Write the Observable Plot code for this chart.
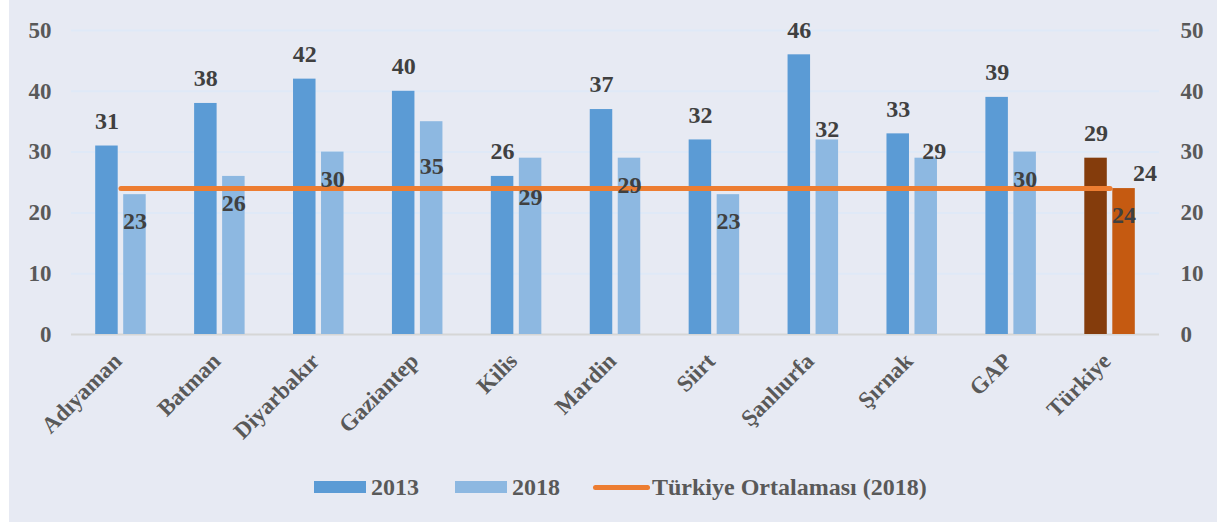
<!DOCTYPE html>
<html>
<head>
<meta charset="utf-8">
<script src="https://cdn.jsdelivr.net/npm/d3@7"></script>
<script src="https://cdn.jsdelivr.net/npm/@observablehq/plot@0.6"></script>
<style>
  html, body { margin: 0; padding: 0; background: #ffffff; }
  #frame { position: absolute; left: 9px; top: 0; width: 1208px; height: 522px; background: #E7EAF3; font-family: "Liberation Serif", "Times New Roman", serif; }
  #legend { height: 54px; display: flex; align-items: center; padding-left: 305px; font-weight: bold; font-size: 24px; color: #595959; }
  .sw { display: inline-block; width: 52px; height: 12px; margin-right: 5px; }
  .ln { display: inline-block; width: 57px; height: 5px; border-radius: 3px; margin-right: 2px; }
</style>
</head>
<body>
<div id="frame">
  <div id="chart"></div>
  <div id="legend"></div>
</div>
<script>
// ---- data ----
const regions = ["Adıyaman", "Batman", "Diyarbakır", "Gaziantep", "Kilis", "Mardin", "Siirt", "Şanlıurfa", "Şırnak", "GAP", "Türkiye"];
const values2013 = [31, 38, 42, 40, 26, 37, 32, 46, 33, 39, 29];
const values2018 = [23, 26, 30, 35, 29, 29, 23, 32, 29, 30, 24];
const turkiyeAverage2018 = 24;
const yTicks = [0, 10, 20, 30, 40, 50];
const seriesNames = ["2013", "2018", "Türkiye Ortalaması (2018)"];

// ---- rendering ----
const data = regions.map((r, i) => ({region: r, v2013: values2013[i], v2018: values2018[i]}));
const lineData = regions.map(r => ({region: r, v: turkiyeAverage2018}));

const W = 1208, H = 460;
const mL = 62, mR = 58, mT = 30, mB = 126;
const step = (W - mL - mR) / regions.length;
const barW = 22.5, gap = 5.5;
const innerEdge = gap / 2, outerEdge = gap / 2 + barW;
const insA = step / 2 - outerEdge; // outer inset
const insB = step / 2 + innerEdge; // inner inset

const c2013 = d => d.region === "Türkiye" ? "#843C0C" : "#5B9BD5";
const c2018 = d => d.region === "Türkiye" ? "#C55A11" : "#8DB8E1";

// label placement adjustments for the 2018 labels (px, relative to bar top)
const lab2018dy = {"Gaziantep": 45, "Kilis": 39, "Şanlıurfa": -11, "Şırnak": -7};
const lab2018dx = {"Şırnak": 8};

const labelFont = {fontFamily: "Liberation Serif, serif", fontWeight: "bold", fontSize: 24, fill: "#404040"};

const chart = Plot.plot({
  width: W,
  height: H,
  marginLeft: mL,
  marginRight: mR,
  marginTop: mT,
  marginBottom: mB,
  style: {background: "transparent", fontFamily: "Liberation Serif, serif", color: "#595959", overflow: "visible"},
  x: {domain: regions, padding: 0, round: false, axis: null},
  y: {domain: [0, 50], axis: null},
  marks: [
    Plot.gridY(yTicks.filter(t => t > 0), {stroke: "#DFE9F7", strokeWidth: 2, strokeOpacity: 1}),
    Plot.ruleY([0], {stroke: "#D6D6D6", strokeWidth: 2}),
    Plot.barY(data, {x: "region", y: "v2013", fill: c2013, insetLeft: insA, insetRight: insB}),
    Plot.barY(data, {x: "region", y: "v2018", fill: c2018, insetLeft: insB, insetRight: insA}),
    Plot.lineY(lineData, {x: "region", y: "v", stroke: "#ED7D31", strokeWidth: 5, strokeLinecap: "round"}),
    Plot.text(data, {x: "region", y: "v2013", text: d => String(d.v2013), dx: -(innerEdge + barW / 2), dy: -25, ...labelFont}),
    ...data.map(d => Plot.text([d], {x: "region", y: "v2018", text: e => String(e.v2018),
      dx: (innerEdge + barW / 2) + (lab2018dx[d.region] || 0), dy: (lab2018dy[d.region] ?? 27), ...labelFont})),
    Plot.text([lineData[lineData.length - 1]], {x: "region", y: "v", text: e => String(e.v), dx: 35, dy: -15, ...labelFont}),
    Plot.axisY(yTicks, {anchor: "left", tickSize: 0, tickPadding: 20, fontSize: 23, fontWeight: "bold", fill: "#595959"}),
    Plot.axisY(yTicks, {anchor: "right", tickSize: 0, tickPadding: 21, fontSize: 23, fontWeight: "bold", fill: "#595959"}),
    Plot.text(regions, {x: d => d, frameAnchor: "bottom", dy: 28, dx: 2, rotate: -45, textAnchor: "end", fontSize: 23, fontWeight: "bold", fill: "#595959"})
  ]
});
document.getElementById("chart").appendChild(chart);

// legend
const legend = document.getElementById("legend");
legend.innerHTML =
  `<span class="sw" style="background:#5B9BD5"></span><span style="margin-right:36px">${seriesNames[0]}</span>` +
  `<span class="sw" style="background:#8DB8E1"></span><span style="margin-right:33px">${seriesNames[1]}</span>` +
  `<span class="ln" style="background:#ED7D31"></span><span>${seriesNames[2]}</span>`;
</script>
</body>
</html>
